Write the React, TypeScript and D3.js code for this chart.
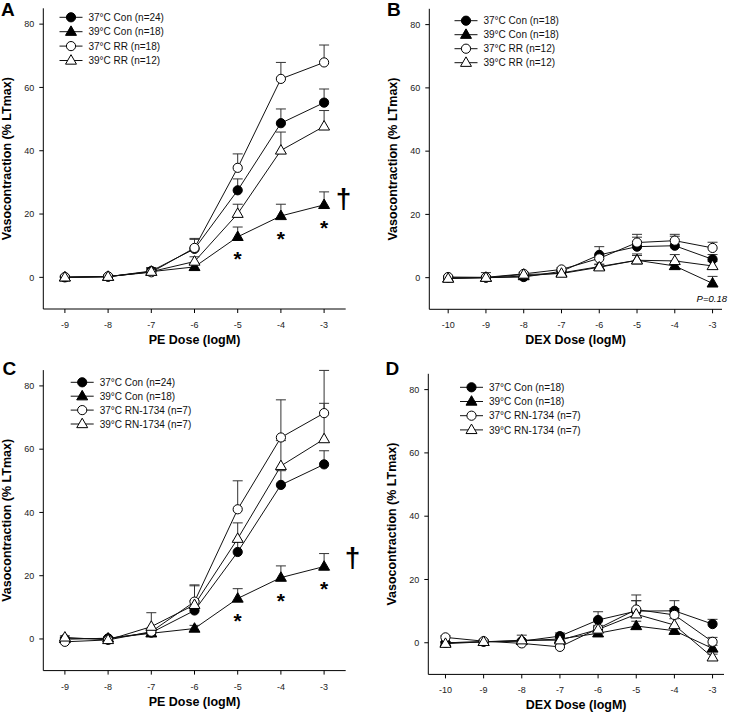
import React from "react";
import * as d3 from "d3";

const peDoses = [-9, -8, -7, -6, -5, -4, -3];
const dexDoses = [-10, -9, -8, -7, -6, -5, -4, -3];
const yTicks = [0, 20, 40, 60, 80];

// Panel A (PE, RR)
const aCon37 = [0, 0.2, 2.0, 9.0, 27.5, 48.7, 55.2];
const aCon37Err = [0.5, 0.5, 1, 3, 3.6, 4.5, 4.3];
const aCon39 = [0, 0.2, 1.8, 3.3, 12.8, 19.4, 22.9];
const aCon39Err = [0.3, 0.3, 0.8, 1, 3.1, 3.7, 4.1];
const aRR37 = [0.1, 0.3, 1.6, 9.3, 34.6, 62.7, 67.9];
const aRR37Err = [0.3, 0.3, 1.5, 3, 4.4, 5.2, 5.5];
const aRR39 = [0, 0.2, 1.8, 5.0, 20.1, 40.1, 47.7];
const aRR39Err = [0.3, 0.3, 1, 1.5, 3, 5.8, 5];

// Panel B (DEX, RR)
const bCon37 = [0, 0, 0.2, 2.0, 7.2, 9.8, 10.1, 5.8];
const bCon37Err = [0.3, 0.5, 0.5, 0.5, 2.6, 3, 3, 1.5];
const bCon39 = [-0.2, 0, 0.5, 1.5, 3.5, 5.5, 3.7, -1.8];
const bCon39Err = [0.3, 0.3, 0.5, 0.5, 0.8, 1.5, 1.5, 2.2];
const bRR37 = [0.2, 0.1, 1.2, 2.6, 6.1, 11.1, 11.7, 9.4];
const bRR37Err = [0.3, 1.5, 0.5, 0.5, 1, 2.6, 2, 1.8];
const bRR39 = [-0.3, 0, 1.0, 1.3, 3.3, 5.5, 5.3, 3.7];
const bRR39Err = [0.3, 0.3, 0.5, 0.5, 0.8, 2, 2, 1.5];

// Panel C (PE, RN-1734)
const cCon37 = [0, 0.2, 2.0, 9.0, 27.5, 48.7, 55.2];
const cCon37Err = [0.5, 0.5, 1, 3, 3.6, 4.5, 4.3];
const cCon39 = [0, 0.2, 1.8, 3.3, 12.8, 19.4, 22.9];
const cCon39Err = [0.3, 0.3, 0.8, 1, 3.1, 3.7, 4.1];
const cRN37 = [-0.9, -0.3, 2.3, 11.8, 41.0, 63.7, 71.4];
const cRN37Err = [0.5, 0.5, 1, 5.3, 9, 11.9, 13.5];
const cRN39 = [0.5, -0.3, 3.9, 10.8, 31.7, 54.7, 63.2];
const cRN39Err = [0.5, 0.5, 4.4, 6, 5, 8, 11.3];

// Panel D (DEX, RN-1734)
const dCon37 = [0, 0.3, 0.5, 2.1, 7.2, 10.0, 10.1, 5.9];
const dCon37Err = [0.3, 0.3, 0.3, 1, 2.6, 3.3, 3.2, 1.5];
const dCon39 = [0, 0.3, 0.6, 1.2, 3.0, 5.3, 3.8, -1.8];
const dCon39Err = [0.3, 0.3, 0.3, 0.5, 0.8, 1.5, 1, 1];
const dRN37 = [1.7, 0.5, -0.2, -1.3, 4.5, 10.5, 8.8, 0.3];
const dRN37Err = [0.5, 0.5, 0.5, 0.5, 1, 4.6, 2, 1.4];
const dRN39 = [-0.3, 0.3, 0.8, 0.8, 4.2, 9.0, 5.6, -4.6];
const dRN39Err = [0.3, 0.3, 1.6, 0.5, 1, 4.3, 2, 1];

const legendA = ["37°C Con (n=24)", "39°C Con (n=18)", "37°C RR (n=18)", "39°C RR (n=12)"];
const legendB = ["37°C Con (n=18)", "39°C Con (n=18)", "37°C RR (n=12)", "39°C RR (n=12)"];
const legendC = ["37°C Con (n=24)", "39°C Con (n=18)", "37°C RN-1734 (n=7)", "39°C RN-1734 (n=7)"];
const legendD = ["37°C Con (n=18)", "39°C Con (n=18)", "37°C RN-1734 (n=7)", "39°C RN-1734 (n=7)"];

const FONT = "'Liberation Sans', Arial, sans-serif";
const shapes = [
  { kind: "circle", fill: "#000" },
  { kind: "triangle", fill: "#000" },
  { kind: "circle", fill: "#fff" },
  { kind: "triangle", fill: "#fff" },
];

type Series = { values: number[]; errs: number[] };

function Marker({ x, y, idx }: { x: number; y: number; idx: number }) {
  const s = shapes[idx];
  if (s.kind === "circle") {
    return <circle cx={x} cy={y} r={4.6} fill={s.fill} stroke="#000" strokeWidth={1} />;
  }
  const p = d3.symbol(d3.symbolTriangle, 52)() as string;
  return <path d={p} transform={`translate(${x},${y + 0.5})`} fill={s.fill} stroke="#000" strokeWidth={1} />;
}

type PanelProps = {
  letter: string;
  letterPos: [number, number];
  left: number;
  right: number;
  top: number;
  bottom: number;
  xDomain: [number, number];
  doses: number[];
  series: Series[];
  legend: string[];
  legendX: number;
  legendY: number;
  legendDy: number;
  xLabel: string;
  stars?: { x: number; y: number }[];
  dagger?: { x: number; y: number };
  pNote?: { x: number; y: number; text: string };
};

function Panel(p: PanelProps) {
  const x = d3.scaleLinear().domain(p.xDomain).range([p.left, p.right]);
  const y = d3.scaleLinear().domain([-10, 85]).range([p.bottom, p.top]);
  const line = d3
    .line<[number, number]>()
    .x((d) => x(d[0]))
    .y((d) => y(d[1]));
  const cx = (p.left + p.right) / 2;
  const cy = (p.top + p.bottom) / 2;
  return (
    <g>
      <text x={p.letterPos[0]} y={p.letterPos[1]} fontFamily={FONT} fontWeight="bold" fontSize={19}>
        {p.letter}
      </text>
      {/* axes */}
      <line x1={p.left} x2={p.left} y1={p.top} y2={p.bottom} stroke="#000" strokeWidth={1} />
      <line x1={p.left} x2={p.right} y1={p.bottom} y2={p.bottom} stroke="#000" strokeWidth={1} />
      {yTicks.map((t) => (
        <g key={"y" + t}>
          <line x1={p.left - 4} x2={p.left} y1={y(t)} y2={y(t)} stroke="#000" />
          <text x={p.left - 9} y={y(t) + 3.2} textAnchor="end" fontFamily={FONT} fontSize={9} fill="#222">
            {t}
          </text>
        </g>
      ))}
      {p.doses.map((t) => (
        <g key={"x" + t}>
          <line x1={x(t)} x2={x(t)} y1={p.bottom} y2={p.bottom + 4} stroke="#000" />
          <text x={x(t)} y={p.bottom + 19} textAnchor="middle" fontFamily={FONT} fontSize={9} fill="#222">
            {t}
          </text>
        </g>
      ))}
      <text
        x={cx}
        y={p.bottom + 35}
        textAnchor="middle"
        fontFamily={FONT}
        fontWeight="bold"
        fontSize={12.5}
      >
        {p.xLabel}
      </text>
      <text
        transform={`translate(${p.left - 32},${cy}) rotate(-90)`}
        textAnchor="middle"
        fontFamily={FONT}
        fontWeight="bold"
        fontSize={12.5}
      >
        Vasocontraction (% LTmax)
      </text>
      {/* lines */}
      {p.series.map((s, i) => (
        <path
          key={"l" + i}
          d={line(p.doses.map((d, j) => [d, s.values[j]] as [number, number])) as string}
          fill="none"
          stroke="#111"
          strokeWidth={1}
        />
      ))}
      {/* error bars */}
      {p.series.map((s, i) =>
        p.doses.map((d, j) => {
          const xv = x(d);
          const y0 = y(s.values[j]);
          const y1 = y(s.values[j] + s.errs[j]);
          return (
            <g key={"e" + i + "-" + j} stroke="#333" strokeWidth={1}>
              <line x1={xv} x2={xv} y1={y0} y2={y1} />
              <line x1={xv - 5} x2={xv + 5} y1={y1} y2={y1} />
            </g>
          );
        })
      )}
      {/* markers */}
      {p.series.map((s, i) =>
        p.doses.map((d, j) => <Marker key={"m" + i + "-" + j} x={x(d)} y={y(s.values[j])} idx={i} />)
      )}
      {/* legend */}
      {p.legend.map((lab, i) => {
        const ly = p.legendY + i * p.legendDy;
        return (
          <g key={"lg" + i}>
            <line x1={p.legendX} x2={p.legendX + 23} y1={ly} y2={ly} stroke="#111" />
            <Marker x={p.legendX + 11.5} y={ly} idx={i} />
            <text x={p.legendX + 29} y={ly + 3.6} fontFamily={FONT} fontSize={10} fill="#111">
              {lab}
            </text>
          </g>
        );
      })}
      {p.stars &&
        p.stars.map((s, i) => (
          <text
            key={"s" + i}
            x={x(s.x)}
            y={y(s.y) + 12.5}
            textAnchor="middle"
            fontFamily={FONT}
            fontWeight="bold"
            fontSize={21}
          >
            *
          </text>
        ))}
      {p.dagger && (
        <text
          x={x(p.dagger.x)}
          y={y(p.dagger.y)}
          textAnchor="middle"
          fontFamily={FONT}
          fontWeight="bold"
          fontSize={28}
        >
          †
        </text>
      )}
      {p.pNote && (
        <text
          x={x(p.pNote.x)}
          y={y(p.pNote.y) + 3}
          textAnchor="middle"
          fontFamily={FONT}
          fontStyle="italic"
          fontSize={9.5}
        >
          {p.pNote.text}
        </text>
      )}
    </g>
  );
}

const starsPE = [
  { x: -5, y: 7.5 },
  { x: -4, y: 13.8 },
  { x: -3, y: 17.4 },
];

export default function App() {
  return (
    <svg width={732} height={713} style={{ display: "block", position: "absolute", left: 0, top: 0 }}>
      <rect x={0} y={0} width={732} height={713} fill="#fff" />
      <Panel
        letter="A"
        letterPos={[1, 15.5]}
        left={43.3}
        right={345.7}
        top={8.3}
        bottom={309}
        xDomain={[-9.5, -2.5]}
        doses={peDoses}
        series={[
          { values: aCon37, errs: aCon37Err },
          { values: aCon39, errs: aCon39Err },
          { values: aRR37, errs: aRR37Err },
          { values: aRR39, errs: aRR39Err },
        ]}
        legend={legendA}
        legendX={59.5}
        legendY={17.3}
        legendDy={14.4}
        xLabel="PE Dose (logM)"
        stars={starsPE}
        dagger={{ x: -2.55, y: 22 }}
      />
      <Panel
        letter="B"
        letterPos={[387, 15.5]}
        left={429.3}
        right={722}
        top={8.8}
        bottom={309.3}
        xDomain={[-10.5, -2.75]}
        doses={dexDoses}
        series={[
          { values: bCon37, errs: bCon37Err },
          { values: bCon39, errs: bCon39Err },
          { values: bRR37, errs: bRR37Err },
          { values: bRR39, errs: bRR39Err },
        ]}
        legend={legendB}
        legendX={454.5}
        legendY={20.7}
        legendDy={14}
        xLabel="DEX Dose (logM)"
        pNote={{ x: -3.02, y: -6.6, text: "P=0.18" }}
      />
      <Panel
        letter="C"
        letterPos={[2.5, 375]}
        left={43.3}
        right={345.7}
        top={370.1}
        bottom={670.6}
        xDomain={[-9.5, -2.5]}
        doses={peDoses}
        series={[
          { values: cCon37, errs: cCon37Err },
          { values: cCon39, errs: cCon39Err },
          { values: cRN37, errs: cRN37Err },
          { values: cRN39, errs: cRN39Err },
        ]}
        legend={legendC}
        legendX={70.7}
        legendY={382.3}
        legendDy={13.9}
        xLabel="PE Dose (logM)"
        stars={starsPE}
        dagger={{ x: -2.34, y: 22.6 }}
      />
      <Panel
        letter="D"
        letterPos={[385.5, 375]}
        left={428.3}
        right={724}
        top={373.8}
        bottom={674.4}
        xDomain={[-10.45, -2.7]}
        doses={dexDoses}
        series={[
          { values: dCon37, errs: dCon37Err },
          { values: dCon39, errs: dCon39Err },
          { values: dRN37, errs: dRN37Err },
          { values: dRN39, errs: dRN39Err },
        ]}
        legend={legendD}
        legendX={460}
        legendY={387.3}
        legendDy={14.2}
        xLabel="DEX Dose (logM)"
      />
    </svg>
  );
}
